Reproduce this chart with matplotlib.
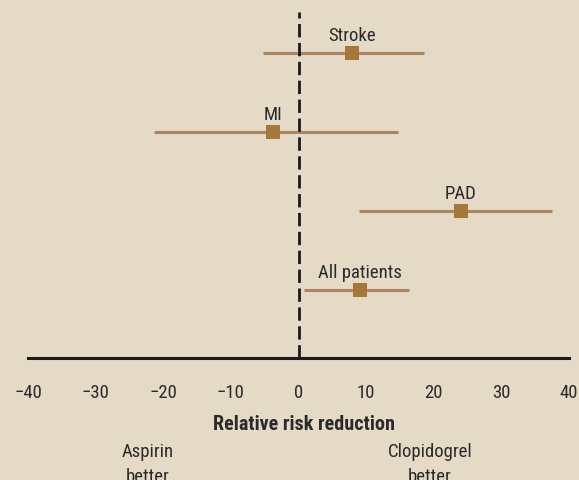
import matplotlib
matplotlib.use("Agg")
import matplotlib.pyplot as plt

# Data
categories = ["Stroke", "MI", "PAD", "All patients"]
rrr = [7.9, -3.8, 24.0, 9.1]
ci_low = [-5.2, -21.4, 9.0, 0.8]
ci_high = [18.6, 14.7, 37.5, 16.4]
row_pos = [4, 3, 2, 1]
xticks = [-40, -30, -20, -10, 0, 10, 20, 30, 40]
xticklabels = ["\u221240", "\u221230", "\u221220", "\u221210", "0", "10", "20", "30", "40"]

bg = "#E5DAC6"
line_c = "#A98560"
marker_c = "#A37838"
text_c = "#2A2A2A"

plt.rcParams['font.family'] = ['Roboto Condensed', 'DejaVu Sans']

W, H = 579, 481
fig = plt.figure(figsize=(W / 100, H / 100), dpi=100, facecolor=bg)
left, right = 28, 569
axis_y = 359.3
top_y = 12.7
ax = fig.add_axes([left / W, 1 - axis_y / H, (right - left) / W, (axis_y - top_y) / H])
ax.set_facecolor(bg)
unit = 79.0  # pixels per row
ylo = 1 - 68.6 / unit
yhi = ylo + (axis_y - top_y) / unit
ax.set_xlim(-40, 40)
ax.set_ylim(ylo, yhi)

for name, m, lo, hi, y in zip(categories, rrr, ci_low, ci_high, row_pos):
    ax.plot([lo, hi], [y, y], color=line_c, lw=2.2, solid_capstyle='butt', zorder=2)
    ax.plot([m], [y], marker='s', ms=10, color=marker_c, mec=marker_c, mew=0, zorder=4)
    ax.text(m, y + 13.0 / unit, name, ha='center', va='baseline', fontsize=13.5, color=text_c)

ax.plot([0, 0], [ylo, yhi], color='#1a1a1a', lw=2.0, dashes=(4.8, 2.0), zorder=3)

for s in ['top', 'right', 'left']:
    ax.spines[s].set_visible(False)
ax.spines['bottom'].set_color('#1a1a1a')
ax.spines['bottom'].set_linewidth(2.2)
ax.spines['bottom'].set_zorder(5)
ax.set_yticks([])
ax.set_xticks(xticks)
ax.set_xticklabels(xticklabels, fontsize=13.5, color=text_c)
ax.tick_params(axis='x', length=0, pad=17.5)

def ftext(x, ybase, s, size=13.5, **kw):
    fig.text(x / W, 1 - ybase / H, s, ha='center', va='baseline', fontsize=size,
             color=text_c, **kw)

ftext(304, 430, "Relative risk reduction", size=14.5, fontweight='semibold')
ftext(148, 457.5, "Aspirin")
ftext(148, 482, "better")
ftext(430, 457.5, "Clopidogrel")
ftext(430, 482, "better")

fig.savefig("out.png", dpi=100, facecolor=bg)
